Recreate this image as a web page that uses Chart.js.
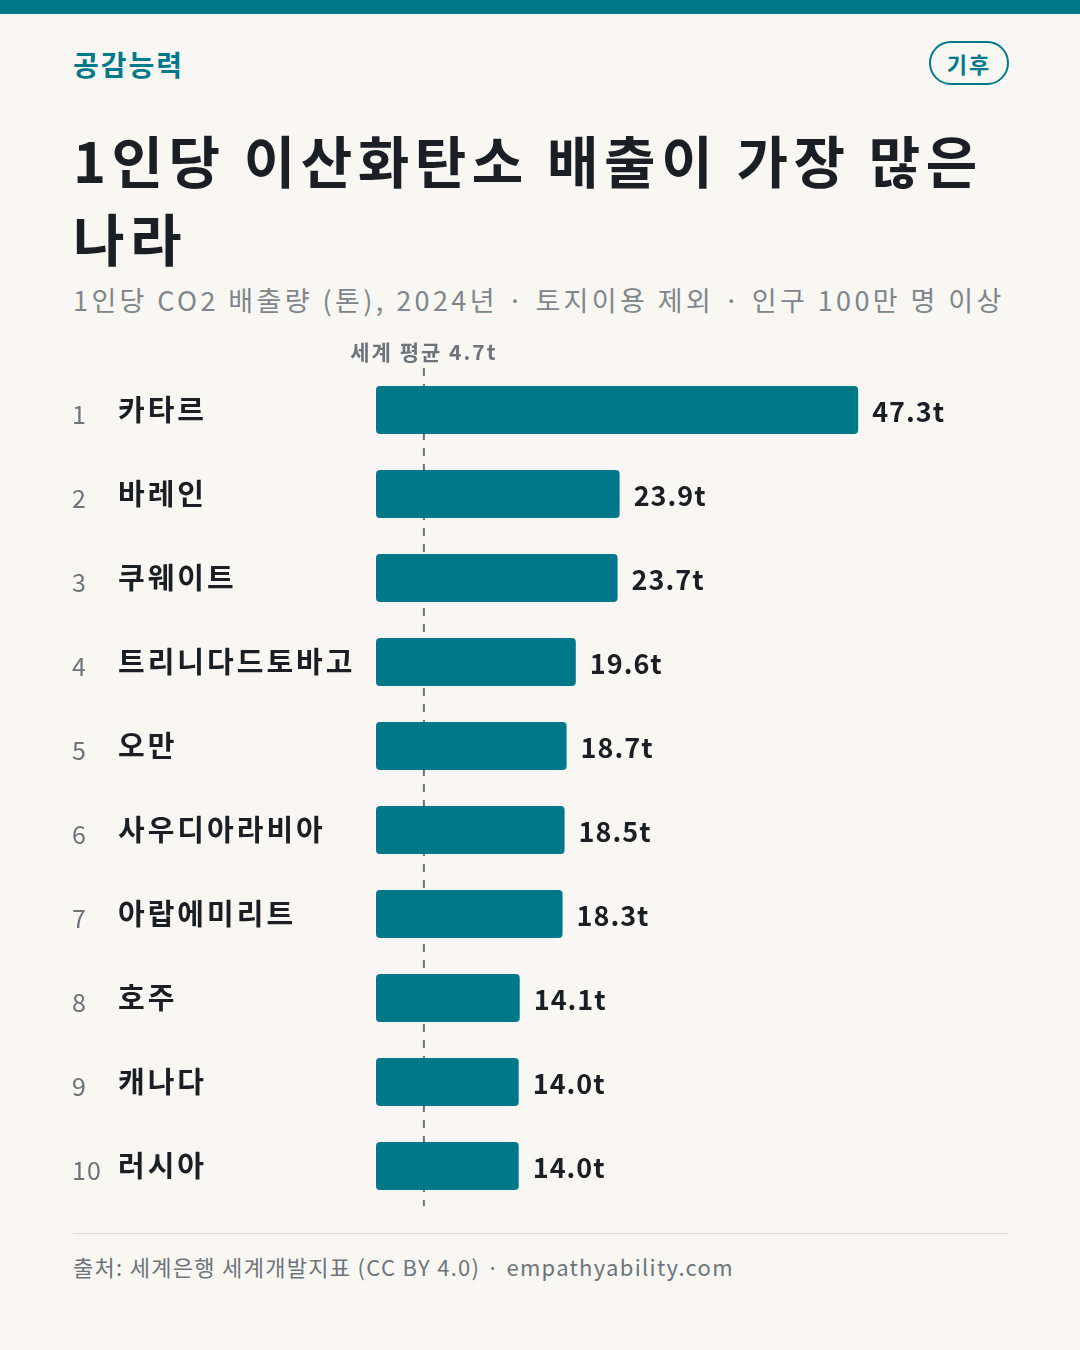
<!DOCTYPE html>
<html><head><meta charset="utf-8">
<script src="https://cdn.jsdelivr.net/npm/chart.js@4"></script>
<style>
body{margin:0;width:1080px;height:1350px;background:#f8f7f3;font-family:"Noto Sans CJK KR","Noto Sans",sans-serif;position:relative;overflow:hidden}
.top{position:absolute;left:0;top:0;width:1080px;height:14px;background:#00788a}
.brand{position:absolute;left:73px;top:44px;font-size:28px;font-weight:700;color:#00788a;letter-spacing:2px}
.badge{position:absolute;left:929px;top:41px;width:76px;height:40px;border:2px solid #00788a;border-radius:22px;color:#00788a;font-size:22px;font-weight:700;text-align:center;line-height:40px;letter-spacing:2px}
h1{position:absolute;left:73px;top:120px;margin:0;font-size:56px;line-height:78px;font-weight:700;color:#1b1f24;letter-spacing:5.5px}
.sub{position:absolute;left:73px;top:280px;font-size:27px;color:#80868b;letter-spacing:3.4px}
#wrap{position:absolute;left:0;top:340px;width:1080px;height:880px}
.rule{position:absolute;left:73px;top:1233px;width:935px;height:1px;background:#dedcd6}
.foot{position:absolute;left:73px;top:1250px;font-size:22px;color:#6e747a;letter-spacing:1.3px}
</style></head><body>
<div class="top"></div>
<div class="brand">공감능력</div>
<div class="badge">기후</div>
<h1>1인당 이산화탄소 배출이 가장 많은<br>나라</h1>
<div class="sub">1인당 CO2 배출량 (톤), 2024년 · 토지이용 제외 · 인구 100만 명 이상</div>
<div id="wrap"><canvas id="c"></canvas></div>
<div class="rule"></div>
<div class="foot">출처: 세계은행 세계개발지표 (CC BY 4.0) · empathyability.com</div>
<script>
const countries=["카타르","바레인","쿠웨이트","트리니다드토바고","오만","사우디아라비아","아랍에미리트","호주","캐나다","러시아"];
const values=[47.3,23.9,23.7,19.6,18.7,18.5,18.3,14.1,14.0,14.0];
const worldAvg=4.7;
const avgLabel="세계 평균 4.7t";
const F='"Noto Sans CJK KR","Noto Sans",sans-serif';
const deco={id:'deco',
 beforeDatasetsDraw(ch){const c=ch.ctx,x=ch.scales.x,a=ch.chartArea;const px=x.getPixelForValue(worldAvg);
  c.save();c.strokeStyle='#6e747a';c.lineWidth=2;c.setLineDash([8,8]);c.beginPath();c.moveTo(px,a.top);c.lineTo(px,a.bottom-2);c.stroke();c.restore();
  c.save();c.font='bold 21px '+F;c.letterSpacing='2px';c.fillStyle='#6e747a';c.textAlign='center';c.textBaseline='middle';c.fillText(avgLabel,px,12);c.restore();},
 afterDatasetsDraw(ch){const c=ch.ctx,y=ch.scales.y,x=ch.scales.x;c.save();c.textBaseline='middle';c.textAlign='left';
  countries.forEach((n,i)=>{const py=y.getPixelForValue(i);
   c.letterSpacing='1px';c.font='25px '+F;c.fillStyle='#6e747a';c.fillText(String(i+1),72,py+4);
   c.letterSpacing='3px';c.font='bold 29px '+F;c.fillStyle='#1b1f24';c.fillText(n,118,py);
   c.letterSpacing='1px';c.font='bold 27px '+F;c.fillText(values[i].toFixed(1)+'t',x.getPixelForValue(values[i])+14,py+2);});
  c.restore();}};
new Chart(document.getElementById('c'),{type:'bar',
 data:{labels:countries,datasets:[{data:values,backgroundColor:'#00788a',borderRadius:4,borderSkipped:false,barPercentage:0.571,categoryPercentage:1}]},
 options:{indexAxis:'y',responsive:true,maintainAspectRatio:false,animation:false,
  layout:{padding:{left:376,right:72,top:28,bottom:12}},
  plugins:{legend:{display:false},tooltip:{enabled:false}},
  scales:{x:{display:false,min:0,max:62},y:{display:false}}},
 plugins:[deco]});
</script></body></html>
